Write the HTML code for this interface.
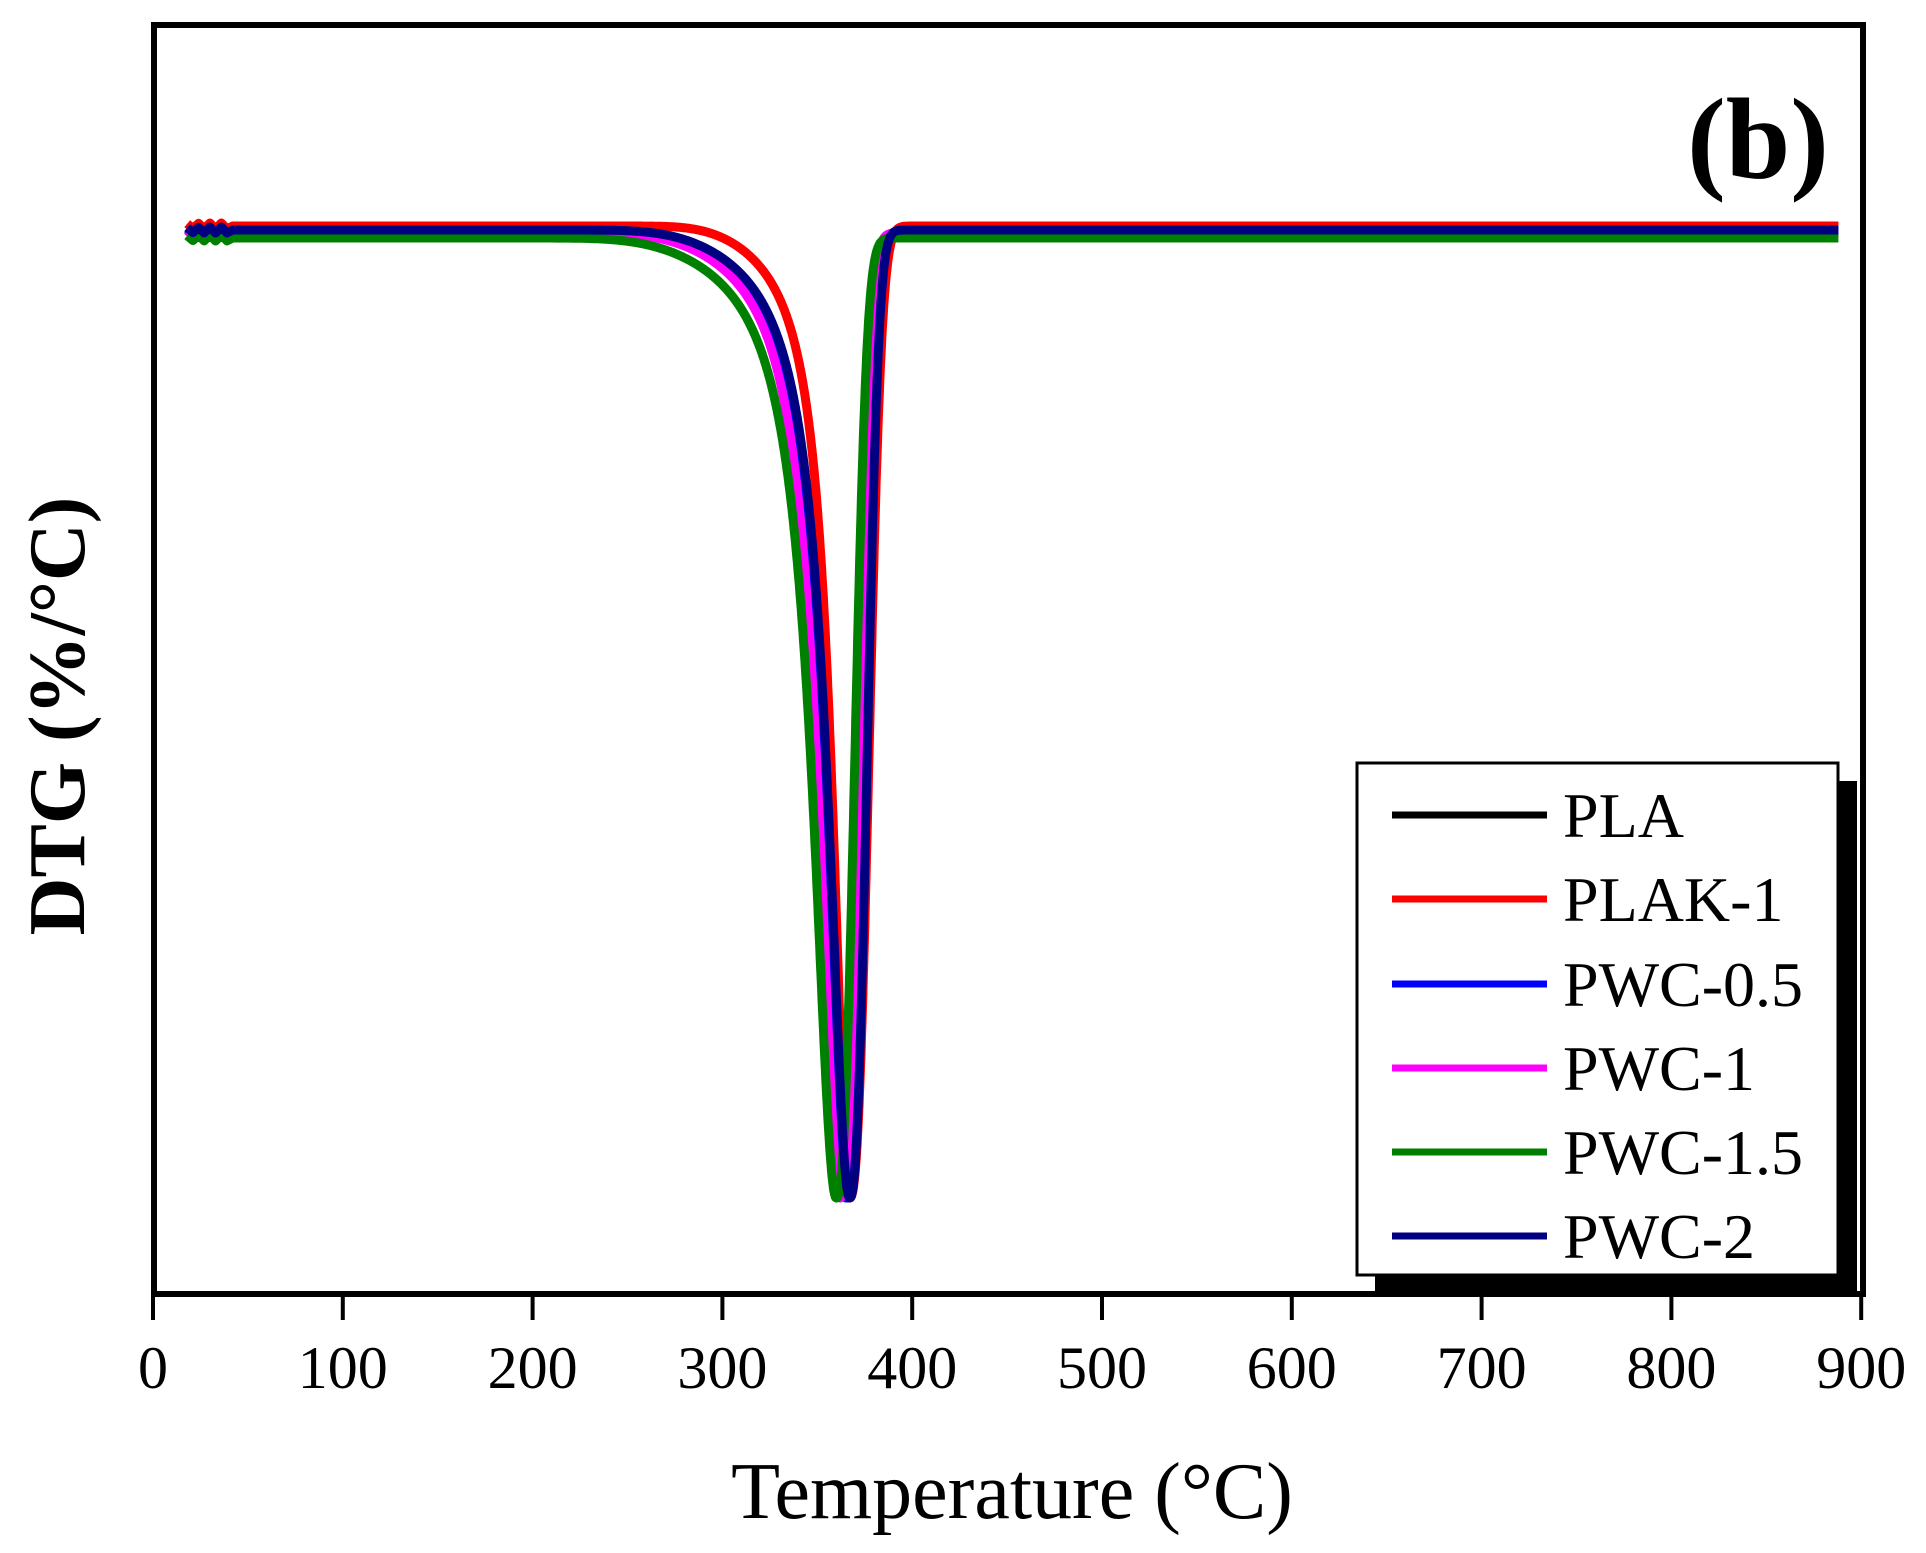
<!DOCTYPE html>
<html><head><style>body{margin:0;background:#fff}svg{display:block}</style></head>
<body>
<svg id="s" width="1926" height="1553" viewBox="0 0 1926 1553" xmlns="http://www.w3.org/2000/svg" font-family="'Liberation Serif',serif">
<rect width="1926" height="1553" fill="#fff"/>
<g id="curves" fill="none" stroke-width="9" stroke-linejoin="round"></g>
<!-- legend -->
<rect x="1375" y="781" width="482" height="513" fill="#000"/>
<rect x="1357" y="763" width="481" height="512" fill="#fff" stroke="#000" stroke-width="3"/>
<g stroke-width="7">
<line x1="1392" x2="1547" y1="815" y2="815" stroke="#000"/>
<line x1="1392" x2="1547" y1="899" y2="899" stroke="#f00"/>
<line x1="1392" x2="1547" y1="984" y2="984" stroke="#00f"/>
<line x1="1392" x2="1547" y1="1068" y2="1068" stroke="#f0f"/>
<line x1="1392" x2="1547" y1="1152" y2="1152" stroke="#008000"/>
<line x1="1392" x2="1547" y1="1236" y2="1236" stroke="#000080"/>
</g>
<g font-size="64" fill="#000">
<text x="1563" y="837">PLA</text>
<text x="1563" y="921">PLAK-1</text>
<text x="1563" y="1006">PWC-0.5</text>
<text x="1563" y="1090">PWC-1</text>
<text x="1563" y="1174">PWC-1.5</text>
<text x="1563" y="1258">PWC-2</text>
</g>
<!-- frame -->
<rect x="154" y="25" width="1709" height="1269" fill="none" stroke="#000" stroke-width="6"/>
<g id="ticks" stroke="#000" stroke-width="4"></g>
<g id="tl" font-size="60" text-anchor="middle" fill="#000"></g>
<text x="1012" y="1518" font-size="80" text-anchor="middle">Temperature (°C)</text>
<text transform="translate(84,716) rotate(-90)" font-size="80" font-weight="bold" text-anchor="middle">DTG (%/°C)</text>
<text x="1758" y="178" font-size="116" font-weight="bold" text-anchor="middle">(b)</text>
</svg>
<script>
var X=function(T){return 153+1.898*T};
var tk=document.getElementById('ticks'),tl=document.getElementById('tl'),h='',t='';
for(var i=0;i<=9;i++){var x=X(i*100);h+='<line x1="'+x+'" x2="'+x+'" y1="1294" y2="1320"/>';t+='<text x="'+x+'" y="1388">'+(i*100)+'</text>';}
tk.innerHTML=h;tl.innerHTML=t;
function shape(dt){
 if(dt<=0){var f=1/(1+Math.pow(dt/13.6,2));return f*Math.exp(-Math.pow(dt/90,4));}
 return Math.exp(-Math.pow(dt/11.9,2.5));
}
var S=[
 ['#000',366,232,1,1],
 ['#f00',367,226,0.8,1.05],
 ['#00f',365,231,1,1],
 ['#f0f',362,233,1,1],
 ['#008000',360,238,1.08,1],
 ['#000080',367,230,1,0.95]
];
var g=document.getElementById('curves'),o='';
S.forEach(function(s){var d='';var ymin=1198;
 for(var T=18;T<=890;T+=(T>220&&T<420)?0.25:3){var dt=T-s[1];var dd=dt<0?dt/s[3]:dt/s[4];var f=shape(dd);var y=s[2]+(ymin-s[2])*f;
 if(T<40)y+=Math.sin(T)*3;
 d+=(d?'L':'M')+X(T).toFixed(1)+' '+y.toFixed(1);}
 o+='<path d="'+d+'" stroke="'+s[0]+'"/>';});
g.innerHTML=o;
</script>
</body></html>
